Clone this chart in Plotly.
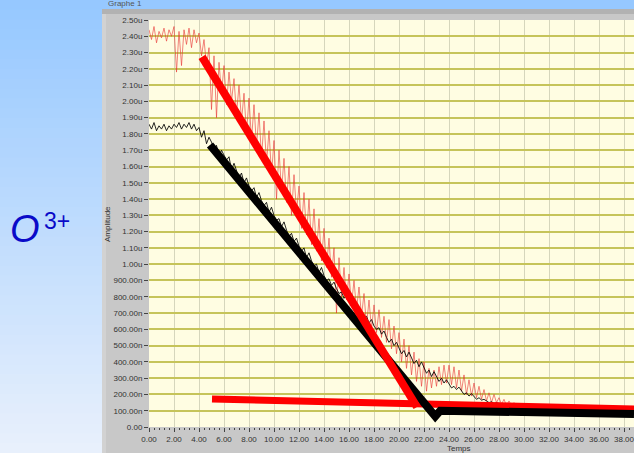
import plotly.graph_objects as go

# ---------------- data (amplitude in micro-units) ----------------
red_x = [round(i * 0.2, 1) for i in range(156)]
red_y = [
    2.44, 2.38, 2.46, 2.36, 2.43,
    2.39, 2.45, 2.37, 2.44, 2.40,
    2.46, 2.18, 2.43, 2.22, 2.44,
    2.35, 2.45, 2.33, 2.44, 2.36,
    2.42, 2.28, 2.38, 2.22, 2.33,
    1.95, 2.28, 1.90, 2.24, 2.05,
    2.22, 1.98, 2.18, 2.00, 2.14,
    1.92, 2.10, 1.88, 2.05, 1.80,
    2.02, 1.76, 1.98, 1.72, 1.93,
    1.65, 1.88, 1.62, 1.82, 1.55,
    1.76, 1.40, 1.70, 1.45, 1.65,
    1.38, 1.60, 1.30, 1.55, 1.32,
    1.48, 1.22, 1.44, 1.18, 1.40,
    1.12, 1.34, 1.08, 1.28, 1.02,
    1.22, 0.98, 1.16, 0.92, 1.10,
    0.70, 1.04, 0.80, 0.98, 0.78,
    0.94, 0.75, 0.90, 0.72, 0.86,
    0.68, 0.82, 0.62, 0.78, 0.60,
    0.75, 0.58, 0.72, 0.55, 0.68,
    0.52, 0.66, 0.48, 0.62, 0.45,
    0.58, 0.40, 0.54, 0.36, 0.50,
    0.32, 0.46, 0.28, 0.42, 0.25,
    0.40, 0.22, 0.36, 0.24, 0.35,
    0.25, 0.37, 0.26, 0.38, 0.27,
    0.38, 0.26, 0.37, 0.24, 0.35,
    0.22, 0.32, 0.20, 0.29, 0.19,
    0.27, 0.18, 0.25, 0.17, 0.23,
    0.16, 0.21, 0.15, 0.20, 0.15,
    0.18, 0.14, 0.17, 0.13, 0.16,
    0.13, 0.15, 0.12, 0.14, 0.12,
    0.13, 0.11, 0.12, 0.11, 0.12,
    0.11,
]

black_x = [round(i * 0.2, 1) for i in range(156)]
black_y = [
    1.86, 1.83, 1.87, 1.82, 1.85,
    1.83, 1.86, 1.82, 1.85, 1.83,
    1.86, 1.84, 1.87, 1.83, 1.86,
    1.84, 1.87, 1.83, 1.86, 1.82,
    1.84, 1.78, 1.82, 1.74, 1.78,
    1.75, 1.70, 1.73, 1.66, 1.70,
    1.67, 1.64, 1.66, 1.58, 1.62,
    1.57, 1.53, 1.56, 1.50, 1.53,
    1.48, 1.45, 1.47, 1.41, 1.44,
    1.39, 1.36, 1.38, 1.32, 1.35,
    1.30, 1.27, 1.28, 1.23, 1.26,
    1.21, 1.17, 1.19, 1.14, 1.16,
    1.11, 1.08, 1.10, 1.04, 1.07,
    1.02, 0.99, 1.00, 0.95, 0.98,
    0.93, 0.90, 0.91, 0.87, 0.89,
    0.85, 0.82, 0.83, 0.79, 0.81,
    0.77, 0.74, 0.75, 0.71, 0.73,
    0.70, 0.67, 0.68, 0.64, 0.66,
    0.62, 0.60, 0.61, 0.57, 0.59,
    0.55, 0.52, 0.54, 0.50, 0.52,
    0.48, 0.45, 0.47, 0.43, 0.46,
    0.42, 0.39, 0.41, 0.37, 0.40,
    0.36, 0.33, 0.35, 0.31, 0.34,
    0.31, 0.28, 0.30, 0.27, 0.29,
    0.26, 0.24, 0.25, 0.23, 0.245,
    0.22, 0.20, 0.21, 0.19, 0.205,
    0.185, 0.17, 0.18, 0.165, 0.17,
    0.16, 0.15, 0.155, 0.145, 0.15,
    0.145, 0.135, 0.14, 0.13, 0.135,
    0.13, 0.12, 0.125, 0.115, 0.12,
    0.12, 0.11, 0.115, 0.105, 0.11,
    0.11,
]

# hand-drawn fit lines
red_fit1_x = [4.24, 21.44]
red_fit1_y = [2.273, 0.123]
red_fit2_x = [5.04, 38.8]
red_fit2_y = [0.172, 0.111]
black_fit_x = [4.88, 22.9, 23.3, 38.8]
black_fit_y = [1.732, 0.065, 0.10, 0.08]

y_tickvals = [i / 10 for i in range(26)]
y_ticktext = ["0.00", "100.00n", "200.00n", "300.00n", "400.00n", "500.00n",
              "600.00n", "700.00n", "800.00n", "900.00n", "1.00u", "1.10u",
              "1.20u", "1.30u", "1.40u", "1.50u", "1.60u", "1.70u", "1.80u",
              "1.90u", "2.00u", "2.10u", "2.20u", "2.30u", "2.40u", "2.50u"]
x_tickvals = list(range(0, 40, 2))
x_ticktext = ["%.2f" % v for v in x_tickvals]

# ---------------- layout geometry ----------------
W, H = 634, 453
L, R, T, B = 149, 634, 20, 427


def px_x(p):
    return (p - L) / (R - L)


def px_y(p):
    return (B - p) / (B - T)


fig = go.Figure()

fig.add_trace(go.Scatter(x=red_x, y=red_y, mode="lines",
                         line=dict(color="rgba(232,50,50,0.6)", width=1),
                         hoverinfo="skip"))
fig.add_trace(go.Scatter(x=black_x, y=black_y, mode="lines",
                         line=dict(color="rgba(0,0,0,0.85)", width=1),
                         hoverinfo="skip"))
fig.add_trace(go.Scatter(x=red_fit2_x, y=red_fit2_y, mode="lines",
                         line=dict(color="#ff0000", width=7), hoverinfo="skip"))
fig.add_trace(go.Scatter(x=black_fit_x, y=black_fit_y, mode="lines",
                         line=dict(color="#000000", width=8), hoverinfo="skip"))
fig.add_trace(go.Scatter(x=red_fit1_x, y=red_fit1_y, mode="lines",
                         line=dict(color="#ff0000", width=8), hoverinfo="skip"))

shapes = []
# blue gradient background
top_c = (150, 200, 255)
bot_c = (232, 240, 252)
n = 46
for i in range(n):
    f = i / (n - 1)
    c = tuple(int(round(top_c[k] + (bot_c[k] - top_c[k]) * f)) for k in range(3))
    y0 = i * H / n
    y1 = (i + 1) * H / n + 1
    shapes.append(dict(type="rect", xref="paper", yref="paper",
                       x0=px_x(0), x1=px_x(W), y0=px_y(y1), y1=px_y(y0),
                       line=dict(width=0), fillcolor="rgb(%d,%d,%d)" % c,
                       layer="below"))
# grey panel
shapes.append(dict(type="rect", xref="paper", yref="paper",
                   x0=px_x(102), x1=px_x(W), y0=px_y(H), y1=px_y(9),
                   line=dict(width=0), fillcolor="#c8c8c8", layer="below"))
shapes.append(dict(type="rect", xref="paper", yref="paper",
                   x0=px_x(102), x1=px_x(W), y0=px_y(14), y1=px_y(9),
                   line=dict(width=0), fillcolor="#b2b2b2", layer="below"))
shapes.append(dict(type="rect", xref="paper", yref="paper",
                   x0=px_x(102), x1=px_x(106), y0=px_y(H), y1=px_y(14),
                   line=dict(width=0), fillcolor="#d2d2d2", layer="below"))
# plot area background
shapes.append(dict(type="rect", xref="paper", yref="paper",
                   x0=0, x1=1, y0=0, y1=1,
                   line=dict(width=0), fillcolor="#fffde2", layer="below"))

annotations = [
    dict(text="<i>O</i>", xref="paper", yref="paper", x=px_x(25), y=px_y(229),
         showarrow=False, font=dict(family="Liberation Sans", size=38, color="#0a0ac8"),
         xanchor="center", yanchor="middle"),
    dict(text="3+", xref="paper", yref="paper", x=px_x(57), y=px_y(221),
         showarrow=False, font=dict(family="Liberation Sans", size=23, color="#0a0ac8"),
         xanchor="center", yanchor="middle"),
    dict(text="Amplitude", xref="paper", yref="paper", x=px_x(108), y=px_y(224),
         showarrow=False, textangle=-90,
         font=dict(family="Liberation Sans", size=8, color="#333333"),
         xanchor="center", yanchor="middle"),
    dict(text="Temps", xref="paper", yref="paper", x=px_x(459), y=px_y(448.5),
         showarrow=False, font=dict(family="Liberation Sans", size=8, color="#333333"),
         xanchor="center", yanchor="middle"),
    dict(text="Graphe 1", xref="paper", yref="paper", x=px_x(106), y=px_y(3),
         showarrow=False, font=dict(family="Liberation Sans", size=8, color="#555555"),
         xanchor="left", yanchor="middle"),
]

fig.update_layout(
    width=W, height=H,
    margin=dict(l=L, r=W - R, t=T, b=H - B, pad=0),
    paper_bgcolor="rgb(200,225,255)",
    plot_bgcolor="rgba(0,0,0,0)",
    showlegend=False,
    shapes=shapes,
    annotations=annotations,
    xaxis=dict(range=[0, 38.8], tickvals=x_tickvals, ticktext=x_ticktext,
               showgrid=True, gridcolor="#d6d6bc", gridwidth=1,
               zeroline=False, showline=False, automargin=False,
               ticks="outside", ticklen=4, tickwidth=1, tickcolor="#444444",
               ticklabeloverflow="allow",
               tickfont=dict(family="Liberation Sans", size=8, color="#333333"),
               minor=dict(dtick=0.4, tick0=0, ticks="outside", ticklen=2,
                          tickwidth=1, tickcolor="#444444", showgrid=False),
               fixedrange=True),
    yaxis=dict(range=[0, 2.5], tickvals=y_tickvals, ticktext=y_ticktext,
               showgrid=True, gridcolor="#c6c45a", gridwidth=1.5,
               zeroline=False, showline=False, automargin=False,
               ticks="outside", ticklen=4, tickwidth=1, tickcolor="#444444",
               tickfont=dict(family="Liberation Sans", size=8, color="#333333"),
               fixedrange=True),
)

fig.write_html("out.html", config={"displayModeBar": False},
               post_script="document.body.style.margin='0px';"
                           "document.body.style.overflow='hidden';")
